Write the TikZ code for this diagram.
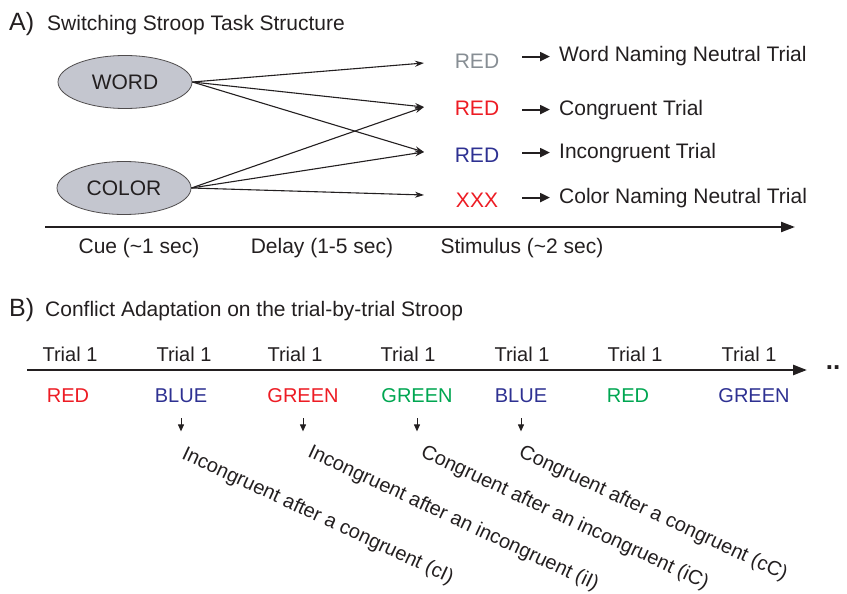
\documentclass[tikz,border=0pt]{standalone}
\usepackage{fontspec}
\setmainfont{Liberation Sans}
\usetikzlibrary{shapes.geometric,arrows.meta,positioning}
\definecolor{cuegray}{RGB}{196,198,207}
\definecolor{sred}{RGB}{237,28,36}
\definecolor{sblue}{RGB}{46,49,146}
\definecolor{sgreen}{RGB}{0,166,81}
\definecolor{sgray}{RGB}{135,142,148}
\definecolor{ink}{RGB}{35,31,32}
\tikzset{
  txt/.style={font=\fontsize{21}{25}\selectfont, inner sep=0pt, text=ink},
  txtB/.style={font=\fontsize{20}{24}\selectfont, inner sep=0pt, text=ink},
  cue/.style={ellipse, draw=ink!80, line width=0.8pt, fill=cuegray, minimum width=134pt, minimum height=53pt, inner sep=0pt, font=\fontsize{21}{25}\selectfont, text=ink},
  fan/.style={draw=ink, line width=1.1pt, -{Stealth[length=9pt,width=6pt]}},
  short/.style={draw=ink, line width=2pt, -{Triangle[length=10pt,width=9pt]}},
  axis/.style={draw=ink, line width=2.2pt, -{Triangle[length=14pt,width=10pt]}},
  dn/.style={draw=ink, line width=1pt, -{Triangle[length=7pt,width=6pt]}},
  slant/.style={txtB, anchor=north west, rotate=-25}
}
\begin{document}
\begin{tikzpicture}[x=1pt,y=-1pt, line join=round]
\useasboundingbox (0,0) rectangle (847,594);
% A) task structure
\node[txt, anchor=base west, font=\fontsize{25}{28}\selectfont] (titA) at (9,31) {A)};
\node[txt, anchor=base west] (titAt) at (47,31) {Switching Stroop Task Structure};
\node[cue] (word) at (125,82) {WORD};
\node[cue] (color) at (124,188) {COLOR};
% stimuli and trial types
\node[txt, anchor=base, text=sgray] (s1) at (477,69) {RED};
\node[txt, anchor=base, text=sred] (s2) at (477,116) {RED};
\node[txt, anchor=base, text=sblue] (s3) at (477,162) {RED};
\node[txt, anchor=base, text=sred] (s4) at (477,207) {XXX};
\node[txt, anchor=base west] (n1) at (559,62) {Word Naming Neutral Trial};
\node[txt, anchor=base west] (n2) at (559,115) {Congruent Trial};
\node[txt, anchor=base west] (n3) at (559,158) {Incongruent Trial};
\node[txt, anchor=base west] (n4) at (559,203) {Color Naming Neutral Trial};
\foreach \i in {1,...,4}
  \draw[short] ([xshift=-37pt]n\i.west) -- ([xshift=-9pt]n\i.west);
\coordinate (e1) at (424,63);
\coordinate (e2) at (424,107);
\coordinate (e3) at (424,152);
\coordinate (e4) at (424,195);
\draw[fan] (word.east) -- (e1);
\draw[fan] (word.east) -- (e2);
\draw[fan] (word.east) -- (e3);
\draw[fan] (color.east) -- (e2);
\draw[fan] (color.east) -- (e3);
\draw[fan] (color.east) -- (e4);
% time line A
\coordinate (a0) at (45,227);
\coordinate (a1) at (795,227);
\draw[axis] (a0) -- (a1);
\node[txt, anchor=base] (cue) at (139,253) {Cue (\textasciitilde 1 sec)};
\node[txt, anchor=base] (delay) at (322,253) {Delay (1-5 sec)};
\node[txt, anchor=base] (stim) at (522,253) {Stimulus (\textasciitilde 2 sec)};
% B) conflict adaptation
\node[txt, anchor=base west, font=\fontsize{25}{28}\selectfont] (titB) at (9,316) {B)};
\node[txt, anchor=base west] (titBt) at (45,316) {Conflict Adaptation on the trial-by-trial Stroop};
\coordinate (b0) at (27,370);
\coordinate (b1) at (807,370);
\draw[axis, line width=2.5pt] (b0) -- (b1);
\node[txtB, font=\fontsize{26}{28}\bfseries] (dots) at (833,368) {..};
\foreach \x [count=\k] in {70,184,295,408,522,635,749}
  \node[txtB, anchor=base] (t\k) at (\x,361) {Trial 1};
\foreach \x/\w/\c [count=\k] in {68/RED/sred, 181/BLUE/sblue, 303/GREEN/sred, 417/GREEN/sgreen, 521/BLUE/sblue, 628/RED/sgreen, 754/GREEN/sblue}
  \node[txtB, anchor=base, text=\c] (w\k) at (\x,402) {\w};
\foreach \k in {2,...,5}
  \draw[dn] ([yshift=-16pt]w\k.south) -- ([yshift=-29pt]w\k.south);
\node[slant] (r1) at (187,445) {Incongruent after a congruent (cI)};
\node[slant] (r2) at (313,443) {Incongruent after an incongruent (iI)};
\node[slant] (r3) at (426,443) {Congruent after an incongruent (iC)};
\node[slant] (r4) at (524,443) {Congruent after a congruent (cC)};
\end{tikzpicture}
\end{document}
